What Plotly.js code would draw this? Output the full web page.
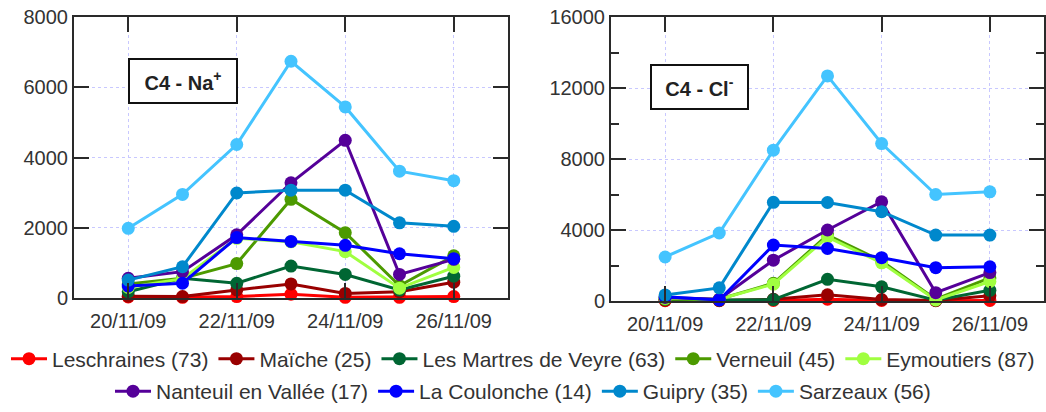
<!DOCTYPE html>
<html>
<head>
<meta charset="utf-8">
<script src="https://cdn.plot.ly/plotly-3.0.1.min.js"></script>
<style>html,body{margin:0;padding:0;background:#fff;}#chart{width:1046px;height:412px;}</style>
</head>
<body>
<div id="chart"></div>
<script>
const dates = ['2009-11-20','2009-11-21','2009-11-22','2009-11-23','2009-11-24','2009-11-25','2009-11-26'];
const sites = ['Leschraines (73)','Maïche (25)','Les Martres de Veyre (63)','Verneuil (45)','Eymoutiers (87)','Nanteuil en Vallée (17)','La Coulonche (14)','Guipry (35)','Sarzeaux (56)'];
const colors = ['#FF0000','#990000','#006633','#4C9A00','#A0FF40','#550099','#0000FF','#0088CC','#44C4FF'];

const naLeschraines = [30, 20, 40, 110, 20, 20, 40];
const naMaiche      = [50, 40, 230, 400, 130, 180, 450];
const naMartres     = [180, 560, 420, 910, 670, 230, 620];
const naVerneuil    = [400, 560, 980, 2810, 1860, 350, 1200];
const naEymoutiers  = [300, 550, 1700, 1600, 1320, 280, 870];
const naNanteuil    = [560, 750, 1800, 3280, 4490, 670, 1100];
const naCoulonche   = [340, 420, 1720, 1610, 1500, 1260, 1120];
const naGuipry      = [510, 890, 2990, 3070, 3070, 2140, 2040];
const naSarzeaux    = [1985, 2950, 4370, 6740, 5440, 3610, 3340];

const clLeschraines = [20, 20, 30, 100, 30, 20, 30];
const clMaiche      = [50, 30, 100, 350, 80, 30, 300];
const clMartres     = [100, 50, 80, 1220, 800, 50, 600];
const clVerneuil    = [100, 100, 1000, 3715, 2250, 100, 1300];
const clEymoutiers  = [150, 100, 950, 3600, 2150, 60, 1100];
const clNanteuil    = [200, 100, 2300, 4000, 5590, 470, 1600];
const clCoulonche   = [240, 55, 3150, 2960, 2440, 1880, 1930];
const clGuipry      = [340, 740, 5560, 5550, 5030, 3715, 3715];
const clSarzeaux    = [2480, 3830, 8500, 12680, 8870, 6000, 6150];

const naSeries = [naLeschraines, naMaiche, naMartres, naVerneuil, naEymoutiers, naNanteuil, naCoulonche, naGuipry, naSarzeaux];
const clSeries = [clLeschraines, clMaiche, clMartres, clVerneuil, clEymoutiers, clNanteuil, clCoulonche, clGuipry, clSarzeaux];

const FONT = 'Liberation Sans, Arial, sans-serif';
const traces = [];
sites.forEach((name, i) => {
  traces.push({
    x: dates, y: naSeries[i], name: name, type: 'scatter', mode: 'lines+markers',
    line: {color: colors[i], width: 3}, marker: {color: colors[i], size: 13},
    cliponaxis: false, xaxis: 'x', yaxis: 'y',
    legend: i < 5 ? 'legend' : 'legend2', showlegend: true
  });
});
sites.forEach((name, i) => {
  traces.push({
    x: dates, y: clSeries[i], name: name, type: 'scatter', mode: 'lines+markers',
    line: {color: colors[i], width: 3}, marker: {color: colors[i], size: 13},
    cliponaxis: false, xaxis: 'x2', yaxis: 'y2', showlegend: false
  });
});

const frameColor = '#2a2a2a';
const gridColor = '#c8c8ff';
function xax(domain, anchor) {
  return {
    domain: domain, anchor: anchor, type: 'date',
    range: ['2009-11-19', '2009-11-27'],
    tick0: '2009-11-20', dtick: 2 * 86400000, tickformat: '%d/%m/%y',
    ticks: 'inside', ticklen: 15, tickwidth: 2, tickcolor: frameColor,
    showline: true, linecolor: frameColor, linewidth: 2, mirror: 'ticks',
    showgrid: true, gridcolor: gridColor, griddash: 'dot', gridwidth: 1,
    zeroline: false, automargin: false, ticklabelstandoff: 4,
    tickfont: {family: FONT, size: 20, color: '#333'}
  };
}
function yax(domain, anchor, max, dtick, minor) {
  const a = {
    domain: domain, anchor: anchor, range: [0, max], dtick: dtick, tick0: 0,
    ticks: 'inside', ticklen: 15, tickwidth: 2, tickcolor: frameColor,
    showline: true, linecolor: frameColor, linewidth: 2, mirror: 'ticks',
    showgrid: true, gridcolor: gridColor, griddash: 'dot', gridwidth: 1,
    zeroline: false, automargin: false,
    tickformat: 'd',
    tickfont: {family: FONT, size: 20, color: '#333'}
  };
  if (minor) a.minor = {dtick: minor, ticks: 'inside', ticklen: 8, tickwidth: 2, tickcolor: frameColor, showgrid: false};
  return a;
}

const legendFont = {family: FONT, size: 21, color: '#333'};
const layout = {
  width: 1046, height: 412,
  margin: {l: 0, r: 0, t: 0, b: 0},
  paper_bgcolor: '#fff', plot_bgcolor: '#fff',
  font: {family: FONT, color: '#333'},
  xaxis: xax([74/1046, 508/1046], 'y'),
  yaxis: yax([1 - 298/412, 1 - 17/412], 'x', 8000, 2000, null),
  xaxis2: xax([611/1046, 1044/1046], 'y2'),
  yaxis2: yax([1 - 301/412, 1 - 17/412], 'x2', 16000, 4000, 2000),
  legend: {orientation: 'h', x: 0.5, xanchor: 'center', y: 1 - 359/412, yanchor: 'middle', itemwidth: 36,
           font: legendFont, bgcolor: 'rgba(0,0,0,0)', tracegroupgap: 0},
  legend2: {orientation: 'h', x: 0.5, xanchor: 'center', y: 0, yanchor: 'bottom', itemwidth: 36,
           font: legendFont, bgcolor: 'rgba(0,0,0,0)', tracegroupgap: 0},
  annotations: [
    {xref: 'x domain', yref: 'y domain', x: 0.25, y: 0.774, xanchor: 'center', yanchor: 'middle',
     text: '<b>C4 - Na<sup>+</sup></b>', showarrow: false, width: 104, height: 40,
     bordercolor: '#111', borderwidth: 2, bgcolor: '#fff', font: {family: FONT, size: 20, color: '#222'}},
    {xref: 'x2 domain', yref: 'y2 domain', x: 0.2055, y: 0.755, xanchor: 'center', yanchor: 'middle',
     text: '<b>C4 - Cl<sup>-</sup></b>', showarrow: false, width: 93, height: 40,
     bordercolor: '#111', borderwidth: 2, bgcolor: '#fff', font: {family: FONT, size: 20, color: '#222'}}
  ]
};

Plotly.newPlot('chart', traces, layout, {displayModeBar: false, staticPlot: true});
</script>
</body>
</html>
